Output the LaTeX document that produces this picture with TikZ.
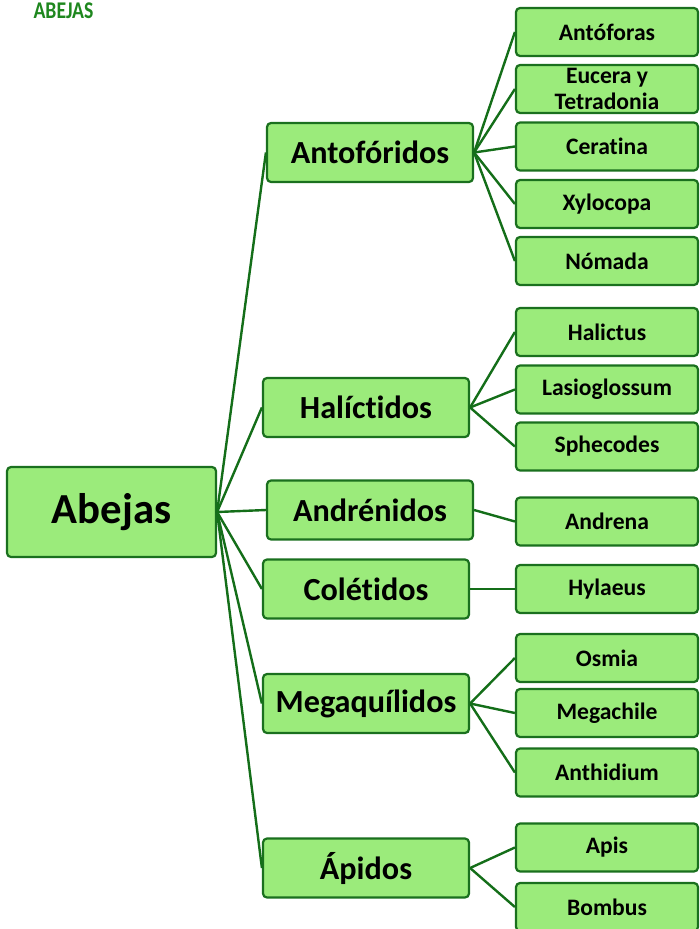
\documentclass[tikz,border=0pt]{standalone}
\usepackage{fontspec}
\setmainfont{Carlito}[Ligatures=NoCommon]
\definecolor{boxfill}{RGB}{155,235,123}
\definecolor{boxline}{RGB}{26,112,30}
\definecolor{edgecol}{RGB}{20,110,25}
\definecolor{titlecol}{RGB}{30,135,30}
\tikzset{
  box/.style={draw=boxline, fill=boxfill, line width=2.2pt, rounded corners=4pt, inner sep=0pt, align=center, text=black},
  rootbox/.style={box, minimum width=209pt, minimum height=90pt, font=\bfseries\fontsize{42.8}{46}\selectfont},
  famboxr/.style={box, minimum width=206pt, minimum height=59pt, font=\bfseries\fontsize{32.2}{34}\selectfont},
  leafbox/.style={box, minimum width=182pt, minimum height=48pt, font=\bfseries\fontsize{23.6}{26}\selectfont},
  edge/.style={draw=edgecol, line width=2.4pt},
}
\begin{document}
\begin{tikzpicture}[x=1pt,y=-1pt]
\useasboundingbox (0,0) rectangle (699,929);
\node[text=titlecol, font=\bfseries\fontsize{24}{26}\selectfont, xscale=0.82, inner sep=0pt] (title) at (63.5,11) {ABEJAS};

\node[rootbox] (abejas) at (111.5,512) {Abejas};

\node[famboxr] (antof) at (370,152.5) {Antofóridos};
\node[famboxr] (halic) at (366,407.5) {Halíctidos};
\node[famboxr] (andre) at (370,510) {Andrénidos};
\node[famboxr] (colet) at (366,589) {Colétidos};
\node[famboxr] (megaq) at (366,703.5) {Megaquílidos};
\node[famboxr] (apido) at (366,868) {Ápidos};

\node[leafbox] (l1) at (607,32) {Antóforas};
\node[leafbox] (l2) at (607,89) {Eucera y\\Tetradonia};
\node[leafbox] (l3) at (607,146.5) {Ceratina};
\node[leafbox] (l4) at (607,204) {Xylocopa};
\node[leafbox] (l5) at (607,261) {Nómada};
\node[leafbox] (l6) at (607,332) {Halictus};
\node[leafbox] (l7) at (607,389.5) {Lasioglossum};
\node[leafbox] (l8) at (607,446.5) {Sphecodes};
\node[leafbox] (l9) at (607,521.5) {Andrena};
\node[leafbox] (l10) at (607,589) {Hylaeus};
\node[leafbox] (l11) at (607,658) {Osmia};
\node[leafbox] (l12) at (607,713) {Megachile};
\node[leafbox] (l13) at (607,772.5) {Anthidium};
\node[leafbox] (l14) at (607,847.5) {Apis};
\node[leafbox] (l15) at (607,907) {Bombus};

\foreach \c in {antof,halic,andre,colet,megaq,apido}
  \draw[edge] (abejas.east) -- (\c.west);
\foreach \l in {l1,l2,l3,l4,l5}
  \draw[edge] (antof.east) -- (\l.west);
\foreach \l in {l6,l7,l8}
  \draw[edge] (halic.east) -- (\l.west);
\draw[edge] (andre.east) -- (l9.west);
\draw[edge] (colet.east) -- (l10.west);
\foreach \l in {l11,l12,l13}
  \draw[edge] (megaq.east) -- (\l.west);
\foreach \l in {l14,l15}
  \draw[edge] (apido.east) -- (\l.west);
\end{tikzpicture}
\end{document}
